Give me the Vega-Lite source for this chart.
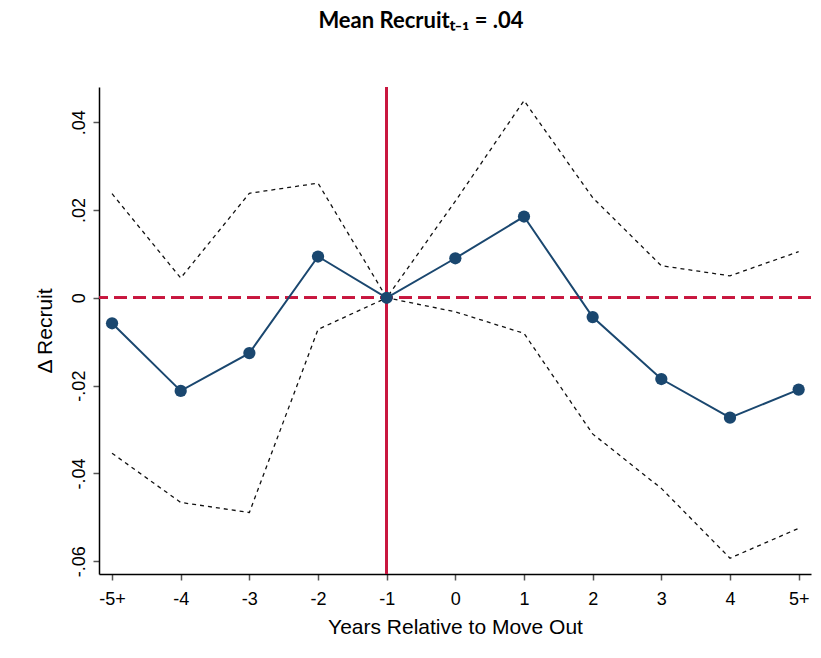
{
  "$schema": "https://vega.github.io/schema/vega-lite/v6.json",
  "autosize": {"type": "none"},
  "width": 712,
  "height": 487,
  "padding": {"left": 99, "top": 87, "right": 10, "bottom": 84},
  "background": "white",
  "title": {
    "text": "Mean Recruitₜ₋₁ = .04",
    "font": "Lato",
    "fontSize": 22,
    "fontWeight": "bold",
    "color": "#000000",
    "anchor": "middle",
    "frame": "group",
    "dx": -34,
    "offset": 53
  },
  "config": {
    "view": {"stroke": null},
    "axis": {
      "labelFont": "Liberation Sans",
      "titleFont": "Liberation Sans",
      "labelColor": "#000000",
      "titleColor": "#000000",
      "labelFontSize": 18,
      "titleFontSize": 21,
      "titleFontWeight": "normal",
      "domainColor": "#000000",
      "domainWidth": 1.5,
      "tickColor": "#555555",
      "tickWidth": 1.5,
      "tickSize": 6,
      "grid": false
    }
  },
  "data": {
    "values": [
      {"rel": -5, "coef": -0.0058, "lo": -0.0354, "hi": 0.0237},
      {"rel": -4, "coef": -0.0212, "lo": -0.0466, "hi": 0.0045},
      {"rel": -3, "coef": -0.0126, "lo": -0.0489, "hi": 0.0238},
      {"rel": -2, "coef": 0.0094, "lo": -0.0072, "hi": 0.0261},
      {"rel": -1, "coef": 0.0, "lo": 0.0, "hi": 0.0},
      {"rel": 0, "coef": 0.009, "lo": -0.0032, "hi": 0.022},
      {"rel": 1, "coef": 0.0185, "lo": -0.0081, "hi": 0.0449},
      {"rel": 2, "coef": -0.0044, "lo": -0.031, "hi": 0.0228},
      {"rel": 3, "coef": -0.0185, "lo": -0.0434, "hi": 0.0073},
      {"rel": 4, "coef": -0.0273, "lo": -0.0593, "hi": 0.005},
      {"rel": 5, "coef": -0.0209, "lo": -0.0525, "hi": 0.0105}
    ]
  },
  "encoding": {
    "x": {
      "field": "rel",
      "type": "quantitative",
      "scale": {"domain": [-5.19, 5.18], "nice": false, "zero": false},
      "axis": {
        "values": [-5, -4, -3, -2, -1, 0, 1, 2, 3, 4, 5],
        "labelExpr": "datum.value == -5 ? '-5+' : datum.value == 5 ? '5+' : '' + datum.value",
        "labelPadding": 10,
        "title": "Years Relative to Move Out",
        "titlePadding": 8
      }
    }
  },
  "layer": [
    {
      "mark": {"type": "rule", "color": "#c8163f", "strokeWidth": 2, "strokeDash": [13, 6]},
      "encoding": {"x": null, "y": {"datum": 0, "type": "quantitative"}}
    },
    {
      "mark": {"type": "rule", "color": "#c8163f", "strokeWidth": 2},
      "encoding": {"x": {"datum": -1, "type": "quantitative"}}
    },
    {
      "mark": {"type": "line", "color": "#111111", "strokeWidth": 1.3, "strokeDash": [4, 4]},
      "encoding": {"y": {"field": "hi", "type": "quantitative"}}
    },
    {
      "mark": {"type": "line", "color": "#111111", "strokeWidth": 1.3, "strokeDash": [4, 4]},
      "encoding": {"y": {"field": "lo", "type": "quantitative"}}
    },
    {
      "mark": {"type": "line", "color": "#1a476f", "strokeWidth": 2},
      "encoding": {"y": {"field": "coef", "type": "quantitative"}}
    },
    {
      "mark": {"type": "point", "filled": true, "color": "#1a476f", "opacity": 1, "size": 150},
      "encoding": {
        "y": {
          "field": "coef",
          "type": "quantitative",
          "scale": {"domain": [-0.0629, 0.048], "nice": false, "zero": false},
          "axis": {
            "values": [-0.06, -0.04, -0.02, 0, 0.02, 0.04],
            "labelExpr": "datum.value == 0 ? '0' : (datum.value < 0 ? '-' : '') + replace(format(abs(datum.value), '.2f'), '0.', '.')",
            "labelAngle": 270,
            "labelPadding": 5,
            "title": "Δ Recruit",
            "titlePadding": 15
          }
        }
      }
    }
  ],
  "resolve": {"scale": {"y": "shared"}}
}
